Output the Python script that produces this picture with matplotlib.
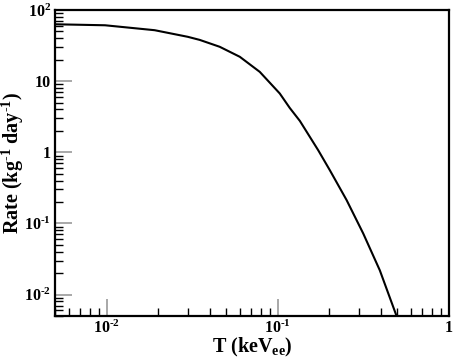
import matplotlib
matplotlib.use("Agg")
import matplotlib.pyplot as plt
from matplotlib.ticker import FixedLocator, FixedFormatter, LogLocator, NullFormatter

plt.rcParams['font.family'] = 'Liberation Serif'
plt.rcParams['font.weight'] = 'bold'
plt.rcParams['mathtext.fontset'] = 'custom'
plt.rcParams['mathtext.rm'] = 'Liberation Serif:bold'
plt.rcParams['mathtext.it'] = 'Liberation Serif:bold'
plt.rcParams['mathtext.bf'] = 'Liberation Serif:bold'

# Data
T_kev = [0.005, 0.0098, 0.0191, 0.0298, 0.035, 0.0458, 0.060, 0.0785,
         0.1027, 0.1175, 0.1346, 0.1722, 0.2014, 0.2523, 0.3155, 0.3945, 0.494]
rate = [63, 61, 52, 42, 38, 30.4, 22.0, 13.5,
        6.71, 4.2, 2.76, 1.07, 0.56, 0.213, 0.0723, 0.0219, 0.005]

xticks = [0.01, 0.1, 1]
xticklabels = [r'10$^{\text{-2}}$', r'10$^{\text{-1}}$', '1']
yticks = [0.01, 0.1, 1, 10, 100]
yticklabels = [r'10$^{\text{-2}}$', r'10$^{\text{-1}}$', '1', '10', r'10$^{\text{2}}$']

fig = plt.figure(figsize=(4.63, 3.59), dpi=100)
ax = fig.add_axes([55/463, 1-316/359, (449-55)/463, (316-10)/359])
ax.plot(T_kev, rate, color='black', lw=1.5)
ax.set_xscale('log')
ax.set_yscale('log')
ax.set_xlim(0.005, 1)
ax.set_ylim(0.005, 100)

ax.xaxis.set_major_locator(FixedLocator(xticks))
ax.xaxis.set_major_formatter(FixedFormatter(xticklabels))
ax.yaxis.set_major_locator(FixedLocator(yticks))
ax.yaxis.set_major_formatter(FixedFormatter(yticklabels))
ax.xaxis.set_minor_locator(LogLocator(base=10, subs=range(2, 10), numticks=20))
ax.yaxis.set_minor_locator(LogLocator(base=10, subs=range(2, 10), numticks=20))
ax.xaxis.set_minor_formatter(NullFormatter())
ax.yaxis.set_minor_formatter(NullFormatter())

ax.tick_params(which='major', direction='in', length=12, width=1.2, color='#999999',
               labelsize=11.5, pad=3, top=False, right=False)
ax.tick_params(which='minor', direction='in', length=6, width=1.0, color='black',
               top=False, right=False)
for s in ax.spines.values():
    s.set_linewidth(1.6)

ax.set_xlabel(r'T (keV$_{\text{ee}}$)', fontsize=14.5, fontweight='bold')
ax.xaxis.set_label_coords(0.5, -0.066)
ax.set_ylabel(r'Rate (kg$^{\text{-1}}$ day$^{\text{-1}}$)', fontsize=14.5, fontweight='bold')
ax.yaxis.set_label_coords(-0.073, 0.5)

fig.savefig('out.png', dpi=100)
